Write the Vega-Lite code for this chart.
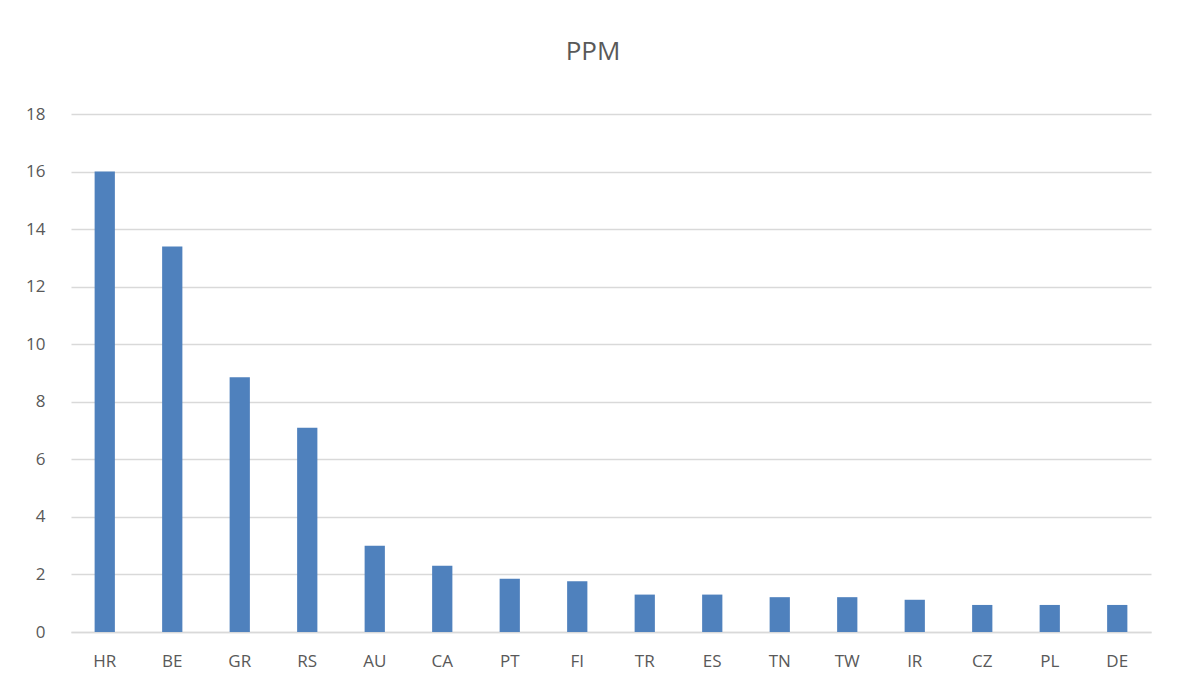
{
  "$schema": "https://vega.github.io/schema/vega-lite/v6.json",
  "autosize": {"type": "none"},
  "width": 1080,
  "height": 518,
  "padding": {"left": 71, "top": 114, "right": 33, "bottom": 61},
  "background": "white",
  "title": {
    "text": "PPM",
    "fontSize": 26,
    "font": "Open Sans",
    "fontWeight": "normal",
    "color": "#595959",
    "anchor": "middle",
    "dx": -18,
    "offset": 40
  },
  "data": {
    "values": [
      {"country": "HR", "ppm": 16.0},
      {"country": "BE", "ppm": 13.4},
      {"country": "GR", "ppm": 8.85},
      {"country": "RS", "ppm": 7.1},
      {"country": "AU", "ppm": 3.0},
      {"country": "CA", "ppm": 2.3},
      {"country": "PT", "ppm": 1.85},
      {"country": "FI", "ppm": 1.76},
      {"country": "TR", "ppm": 1.3},
      {"country": "ES", "ppm": 1.3},
      {"country": "TN", "ppm": 1.21},
      {"country": "TW", "ppm": 1.21},
      {"country": "IR", "ppm": 1.12},
      {"country": "CZ", "ppm": 0.94},
      {"country": "PL", "ppm": 0.94},
      {"country": "DE", "ppm": 0.94}
    ]
  },
  "mark": {"type": "bar", "color": "#4f81bd"},
  "encoding": {
    "x": {
      "field": "country",
      "type": "nominal",
      "sort": null,
      "scale": {"paddingInner": 0.7, "paddingOuter": 0.35},
      "axis": {
        "title": null,
        "labelAngle": 0,
        "labelFont": "Open Sans",
        "labelFontSize": 17,
        "labelColor": "#595959",
        "labelPadding": 21,
        "ticks": false,
        "domainColor": "#d9d9d9",
        "domainWidth": 1.5
      }
    },
    "y": {
      "field": "ppm",
      "type": "quantitative",
      "scale": {"domain": [0, 18], "nice": false},
      "axis": {
        "title": null,
        "values": [0, 2, 4, 6, 8, 10, 12, 14, 16, 18],
        "labelFont": "Open Sans",
        "labelFontSize": 17,
        "labelColor": "#595959",
        "labelPadding": 26,
        "ticks": false,
        "domain": false,
        "gridColor": "#d9d9d9",
        "gridWidth": 1.5
      }
    }
  },
  "config": {
    "view": {"stroke": null}
  }
}
